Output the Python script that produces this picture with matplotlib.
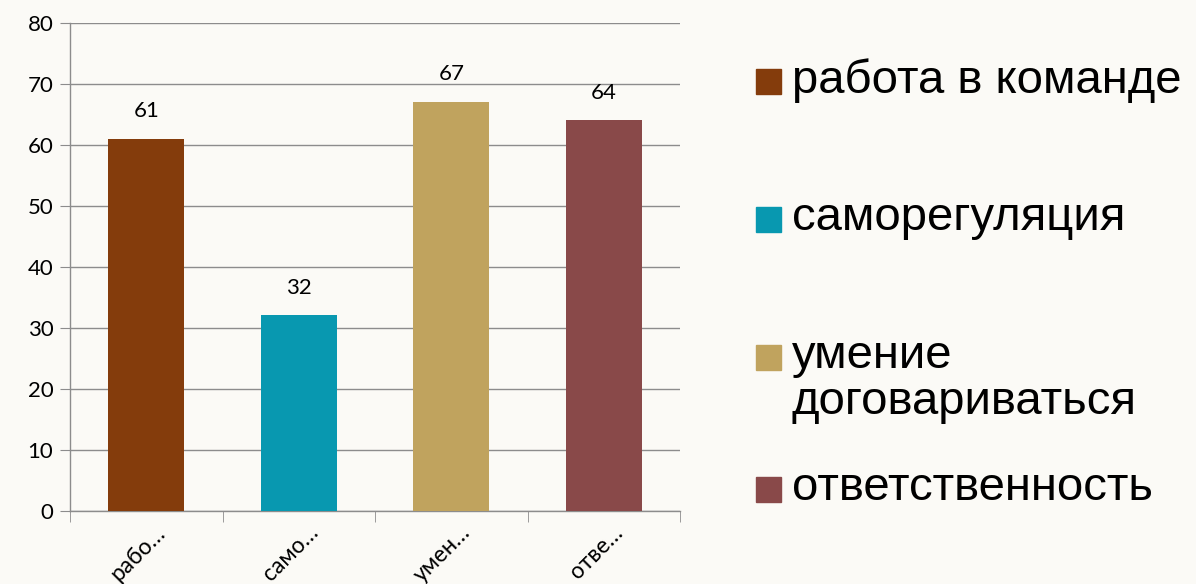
import numpy as np
import matplotlib
matplotlib.use("Agg")
import matplotlib.pyplot as plt
import matplotlib.transforms as mtransforms
from matplotlib.patches import Rectangle

# data
categories = ["работа в команде", "саморегуляция", "умение договариваться", "ответственность"]
tick_labels = ["рабо…", "само…", "умен…", "отве…"]
legend_labels = ["работа в команде", "саморегуляция", "умение\nдоговариваться", "ответственность"]
values = [61, 32, 67, 64]
colors = ["#843C0C", "#0898B0", "#C0A35E", "#894949"]

bg = "#FBFAF6"
fig = plt.figure(figsize=(11.96, 5.84), dpi=100, facecolor=bg)
ax = fig.add_axes([70 / 1196, 1 - 510.7 / 584, 610 / 1196, 488 / 584])
ax.set_facecolor("none")

x = np.arange(len(values))
bars = ax.bar(x, values, width=0.5, color=colors, zorder=3)

ax.set_xlim(-0.5, len(values) - 0.5)
ax.set_ylim(0, 80)
ax.set_yticks(np.arange(0, 81, 10))
ax.grid(axis="y", color="#8c8c8c", linewidth=1, zorder=0)

for s in ["top", "right"]:
    ax.spines[s].set_visible(False)
for s in ["left", "bottom"]:
    ax.spines[s].set_color("#8c8c8c")
    ax.spines[s].set_linewidth(1)

ax.tick_params(axis="y", length=7, color="#8c8c8c", labelsize=16, pad=5)
ax.set_xticks(x)
ax.set_xticks(np.arange(-0.5, len(values), 1), minor=True)
ax.tick_params(axis="x", which="major", length=0, pad=8)
ax.tick_params(axis="x", which="minor", length=8, color="#8c8c8c")
ax.set_xticklabels(tick_labels, rotation=45, ha="right", rotation_mode="anchor",
                   fontsize=16.5, fontfamily="Lato")
shift = mtransforms.ScaledTranslation(6 / 72, 0, fig.dpi_scale_trans)
for lab in ax.get_xticklabels():
    lab.set_transform(lab.get_transform() + shift)
for lab in ax.get_yticklabels():
    lab.set_fontfamily("Lato")

for b, v in zip(bars, values):
    ax.annotate(str(v), (b.get_x() + b.get_width() / 2, v), xytext=(0, 20),
                textcoords="offset points", ha="center", va="center",
                fontsize=16, fontfamily="Lato")

# legend drawn by hand to match the uneven spacing of the original
entry_y = [82, 220, 358, 490]
for lab, c, yy in zip(legend_labels, colors, entry_y):
    fig.patches.append(Rectangle((756 / 1196, 1 - (yy + 12) / 584), 25 / 1196, 25 / 584,
                                 transform=fig.transFigure, color=c))
    fig.text(792 / 1196, 1 - (yy - 24) / 584, lab, ha="left", va="top",
             fontsize=34, fontfamily="Liberation Sans", linespacing=1.05)

fig.savefig("out.png", dpi=100, facecolor=bg)
